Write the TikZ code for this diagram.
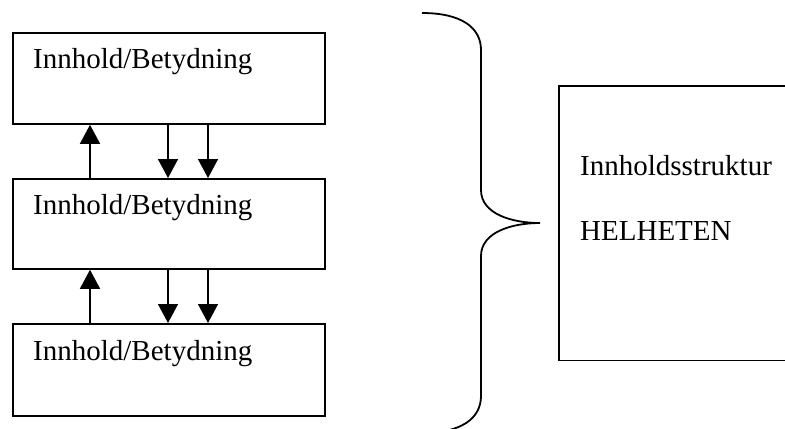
\documentclass[tikz,border=0pt]{standalone}
\usepackage{fontspec}
\setmainfont{Liberation Serif}
\usetikzlibrary{arrows.meta}
\begin{document}
\begin{tikzpicture}[x=1bp,y=-1bp,
  box/.style={draw, line width=1.8bp, rectangle, inner sep=0pt, anchor=north west,
    minimum width=312bp},
  lbl/.style={anchor=base west, inner sep=0pt, font=\fontsize{29bp}{34bp}\selectfont},
  arr/.style={line width=1.5bp, -{Triangle[length=19bp,width=20bp]}},
  brace/.style={line width=1.8bp}
]
\useasboundingbox (0,0) rectangle (785,428);
\node[box, minimum height=91bp] (b1) at (12,32) {};
\node[box, minimum height=90bp] (b2) at (12,178) {};
\node[box, minimum height=92bp] (b3) at (12,323) {};
\node[lbl] (t1) at (33,68) {Innhold/Betydning};
\node[lbl] (t2) at (33,214) {Innhold/Betydning};
\node[lbl] (t3) at (33,360) {Innhold/Betydning};
% arrows between box 1 and box 2
\draw[arr] ([xshift=78bp]b2.north west) -- ([xshift=78bp]b1.south west);
\draw[arr] ([xshift=156bp]b1.south west) -- ([xshift=156bp]b2.north west);
\draw[arr] ([xshift=196bp]b1.south west) -- ([xshift=196bp]b2.north west);
% arrows between box 2 and box 3
\draw[arr] ([xshift=78bp]b3.north west) -- ([xshift=78bp]b2.south west);
\draw[arr] ([xshift=156bp]b2.south west) -- ([xshift=156bp]b3.north west);
\draw[arr] ([xshift=196bp]b2.south west) -- ([xshift=196bp]b3.north west);
% brace
\coordinate (bt) at (422,13);
\coordinate (btip) at (540,223);
\coordinate (bb) at (422,433);
\draw[brace] (bt) .. controls (462,13) and (481,28) .. (481,50)
  -- (481,190) .. controls (481,214) and (512,223) .. (btip)
  .. controls (512,223) and (481,232) .. (481,256)
  -- (481,396) .. controls (481,418) and (462,433) .. (bb);
% right box (open on the right)
\node[inner sep=0pt, anchor=north west, minimum width=226bp, minimum height=274bp] (rb) at (559,86) {};
\draw[line width=1.8bp] (rb.north east) -- (rb.north west) -- (rb.south west) -- (rb.south east);
\node[lbl] (r1) at (580,175) {Innholdsstruktur};
\node[lbl] (r2) at (580,240) {HELHETEN};
\end{tikzpicture}
\end{document}
